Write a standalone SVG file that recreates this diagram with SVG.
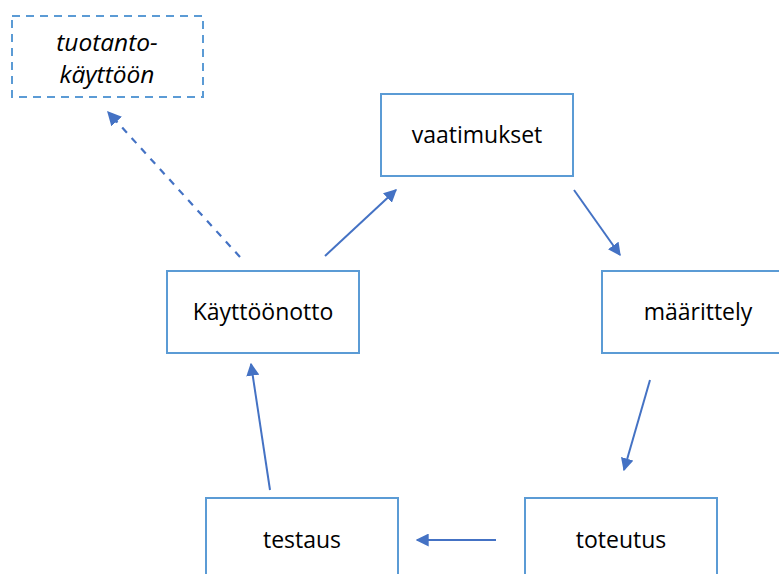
<svg xmlns="http://www.w3.org/2000/svg" width="779" height="574" viewBox="0 0 779 574">
  <style>
    .box { fill: #ffffff; stroke: #5B9BD5; stroke-width: 2; }
    .dash { fill: none; stroke: #5B9BD5; stroke-width: 2; stroke-dasharray: 8 6; }
    .lbl { font-family: "Open Sans", "Liberation Sans", sans-serif; font-size: 23px; fill: #000000; text-anchor: middle; }
    .it { font-style: italic; font-size: 24.5px; }
    .arr { stroke: #4472C4; stroke-width: 2; fill: none; marker-end: url(#head); }
    .arrd { stroke: #4472C4; stroke-width: 2.2; fill: none; stroke-dasharray: 7 7; marker-end: url(#head); }
  </style>
  <defs>
    <marker id="head" viewBox="0 0 10 10" refX="9" refY="5" markerWidth="6.5" markerHeight="6.5" markerUnits="strokeWidth" orient="auto">
      <path d="M0,0 L10,5 L0,10 z" fill="#4472C4"/>
    </marker>
  </defs>
  <rect width="779" height="574" fill="#ffffff"/>

  <!-- connectors -->
  <g id="connectors">
    <line class="arrd" x1="240" y1="257" x2="108" y2="112"/>
    <line class="arr" x1="325" y1="256" x2="396" y2="190"/>
    <line class="arr" x1="574" y1="190" x2="620" y2="255"/>
    <line class="arr" x1="650" y1="380" x2="624" y2="470"/>
    <line class="arr" x1="496" y1="540" x2="417" y2="540"/>
    <line class="arr" x1="270" y1="490" x2="251" y2="364"/>
  </g>

  <g id="tuotantokayttoon">
    <rect class="dash" x="12" y="16" width="191" height="81"/>
    <text class="lbl it" x="107" y="51">tuotanto-</text>
    <text class="lbl it" x="107" y="83">käyttöön</text>
  </g>

  <g id="vaatimukset">
    <rect class="box" x="381" y="94" width="192" height="82"/>
    <text class="lbl" x="477" y="143">vaatimukset</text>
  </g>

  <g id="kayttoonotto">
    <rect class="box" x="167" y="271" width="192" height="82"/>
    <text class="lbl" x="263" y="320">Käyttöönotto</text>
  </g>

  <g id="maarittely">
    <rect class="box" x="602" y="271" width="192" height="82"/>
    <text class="lbl" x="698" y="320">määrittely</text>
  </g>

  <g id="testaus">
    <rect class="box" x="206" y="498" width="192" height="90"/>
    <text class="lbl" x="302" y="548">testaus</text>
  </g>

  <g id="toteutus">
    <rect class="box" x="525" y="498" width="192" height="90"/>
    <text class="lbl" x="621" y="548">toteutus</text>
  </g>
</svg>
